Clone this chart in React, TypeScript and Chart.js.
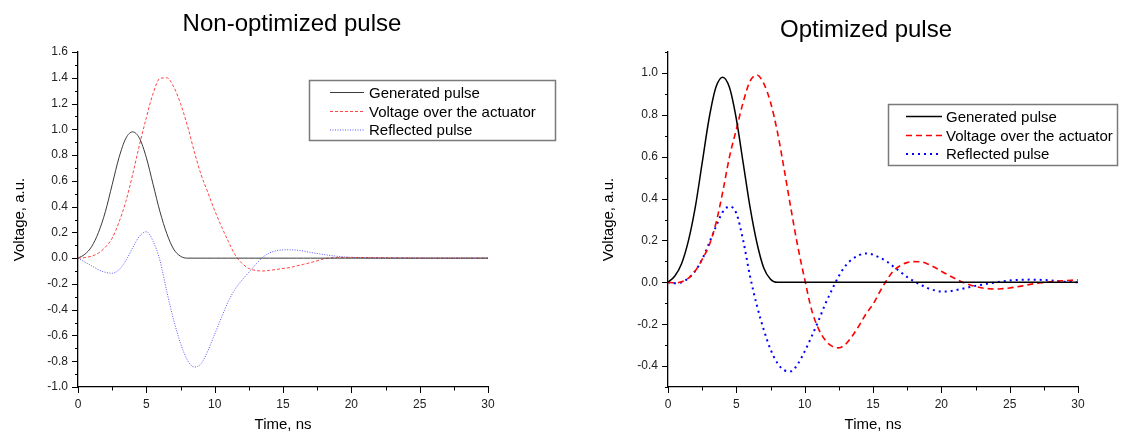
import React, { useEffect, useRef } from "react";
import { Chart, registerables } from "chart.js";

Chart.register(...registerables);

const FONT = 'Arial, "Liberation Sans", sans-serif';

// ---------- data ----------
const timeNs = [
  0, 0.5, 1, 1.5, 2, 2.5, 3, 3.5, 4, 4.5, 5, 5.5, 6, 6.5, 7, 7.5, 8, 8.5, 9, 9.5,
  10, 10.5, 11, 11.5, 12, 12.5, 13, 13.5, 14, 14.5, 15, 15.5, 16, 16.5, 17, 17.5,
  18, 18.5, 19, 19.5, 20, 20.5, 21, 21.5, 22, 22.5, 23, 23.5, 24, 24.5, 25, 25.5,
  26, 26.5, 27, 27.5, 28, 28.5, 29, 29.5, 30,
];

const generatedPulse = [
  0, 0.03, 0.09, 0.2, 0.36, 0.57, 0.78, 0.93, 0.98, 0.93, 0.78, 0.57, 0.36, 0.19,
  0.07, 0.015, 0, 0, 0, 0, 0, 0, 0, 0, 0, 0, 0, 0, 0, 0, 0, 0, 0, 0, 0, 0, 0, 0, 0,
  0, 0, 0, 0, 0, 0, 0, 0, 0, 0, 0, 0, 0, 0, 0, 0, 0, 0, 0, 0, 0, 0,
];

const nonOptActuatorVoltage = [
  0, 0.005, 0.015, 0.04, 0.085, 0.155, 0.28, 0.44, 0.65, 0.88, 1.09, 1.28, 1.395,
  1.4, 1.33, 1.2, 1.03, 0.83, 0.65, 0.51, 0.37, 0.245, 0.13, 0.025, -0.04, -0.08,
  -0.095, -0.1, -0.095, -0.088, -0.08, -0.073, -0.06, -0.048, -0.035, -0.02,
  -0.005, 0.002, 0.005, 0.006, 0.006, 0.005, 0.005, 0.004, 0.004, 0.003, 0.003,
  0.002, 0.002, 0.001, 0.001, 0, 0, 0, 0, 0, 0, 0, 0, 0, 0,
];

const nonOptReflectedPulse = [
  0, -0.03, -0.06, -0.09, -0.11, -0.117, -0.09, -0.02, 0.08, 0.17, 0.205, 0.13,
  -0.02, -0.26, -0.48, -0.66, -0.79, -0.845, -0.82, -0.72, -0.59, -0.46, -0.335,
  -0.24, -0.17, -0.11, -0.05, 0.005, 0.04, 0.057, 0.064, 0.065, 0.062, 0.055,
  0.045, 0.036, 0.028, 0.02, 0.014, 0.009, 0.006, 0.004, 0.002, 0.001, 0, 0, 0, 0,
  0, 0, 0, 0, 0, 0, 0, 0, 0, 0, 0, 0, 0,
];

const optActuatorVoltage = [
  0, -0.003, 0.003, 0.02, 0.055, 0.11, 0.175, 0.28, 0.43, 0.6, 0.73, 0.86, 0.96,
  0.99, 0.95, 0.86, 0.72, 0.54, 0.35, 0.17, 0.015, -0.13, -0.22, -0.276, -0.305,
  -0.313, -0.295, -0.255, -0.205, -0.15, -0.105, -0.045, 0.01, 0.055, 0.08, 0.094,
  0.099, 0.098, 0.088, 0.072, 0.053, 0.035, 0.018, 0.002, -0.01, -0.02, -0.027,
  -0.031, -0.032, -0.03, -0.027, -0.022, -0.016, -0.01, -0.005, -0.001, 0.003,
  0.006, 0.008, 0.01, 0.011,
];

const optReflectedPulse = [
  0, -0.005, 0, 0.02, 0.055, 0.11, 0.185, 0.265, 0.335, 0.362, 0.33, 0.2, 0.03,
  -0.11, -0.225, -0.32, -0.385, -0.42, -0.425, -0.39, -0.33, -0.26, -0.185,
  -0.105, -0.035, 0.03, 0.08, 0.112, 0.13, 0.138, 0.132, 0.118, 0.1, 0.075, 0.05,
  0.025, 0.005, -0.012, -0.028, -0.038, -0.044, -0.043, -0.038, -0.031, -0.024,
  -0.017, -0.011, -0.005, 0, 0.005, 0.009, 0.011, 0.012, 0.013, 0.012, 0.011,
  0.009, 0.006, 0.003, 0.001, 0,
];

const seriesNames = ["Generated pulse", "Voltage over the actuator", "Reflected pulse"];

const xMajorTicks = [0, 5, 10, 15, 20, 25, 30];
const xMinorTicks = [2.5, 7.5, 12.5, 17.5, 22.5, 27.5];

const leftYLabelled = [-1.0, -0.8, -0.6, -0.4, -0.2, 0, 0.2, 0.4, 0.6, 0.8, 1.0, 1.2, 1.4, 1.6];
const leftYMinor = [-0.9, -0.7, -0.5, -0.3, -0.1, 0.1, 0.3, 0.5, 0.7, 0.9, 1.1, 1.3, 1.5];
const rightYLabelled = [-0.4, -0.2, 0, 0.2, 0.4, 0.6, 0.8, 1.0];
const rightYMinor = [-0.5, -0.3, -0.1, 0.1, 0.3, 0.5, 0.7, 0.9, 1.1];

type SeriesStyle = { color: string; width: number; dash: number[] };

type Panel = {
  title: string;
  titleX: number;
  titleY: number;
  yTitleX: number;
  xTitleY: number;
  yMin: number;
  yMax: number;
  yLabelled: number[];
  yMinor: number[];
  yAxisWidth: number;
  padRight: number;
  series: number[][];
  styles: SeriesStyle[];
  legend: { x: number; y: number; w: number; h: number; lx1: number; lx2: number; tx: number; rows: number[] };
};

function buildChart(canvas: HTMLCanvasElement, p: Panel) {
  const decor = {
    id: "decor",
    afterDraw(chart: any) {
      const ctx: CanvasRenderingContext2D = chart.ctx;
      const { left, right, top, bottom } = chart.chartArea;
      const xs = chart.scales.x;
      const ys = chart.scales.y;
      ctx.save();
      ctx.strokeStyle = "#000";
      ctx.lineWidth = 1;
      ctx.setLineDash([]);
      const xt = (vals: number[], len: number) => {
        for (const v of vals) {
          const x = Math.round(xs.getPixelForValue(v)) + 0.5;
          ctx.beginPath();
          ctx.moveTo(x, bottom);
          ctx.lineTo(x, bottom + len);
          ctx.stroke();
        }
      };
      const yt = (vals: number[], len: number) => {
        for (const v of vals) {
          const y = Math.round(ys.getPixelForValue(v)) + 0.5;
          ctx.beginPath();
          ctx.moveTo(left, y);
          ctx.lineTo(left - len, y);
          ctx.stroke();
        }
      };
      xt(xMajorTicks, 6);
      xt(xMinorTicks, 3.5);
      yt(p.yLabelled, 6);
      yt(p.yMinor, 3);

      ctx.fillStyle = "#000";
      ctx.textAlign = "center";
      ctx.textBaseline = "alphabetic";
      ctx.font = `24px ${FONT}`;
      ctx.fillText(p.title, p.titleX, p.titleY);
      ctx.textBaseline = "middle";
      ctx.font = `15px ${FONT}`;
      ctx.fillText("Time, ns", (left + right) / 2, p.xTitleY);
      ctx.save();
      ctx.translate(p.yTitleX, (top + bottom) / 2);
      ctx.rotate(-Math.PI / 2);
      ctx.fillText("Voltage, a.u.", 0, 0);
      ctx.restore();

      // legend
      const L = p.legend;
      ctx.fillStyle = "#fff";
      ctx.fillRect(L.x, L.y, L.w, L.h);
      ctx.strokeStyle = "#7a7a7a";
      ctx.lineWidth = 1.5;
      ctx.strokeRect(L.x, L.y, L.w, L.h);
      ctx.font = `15px ${FONT}`;
      ctx.textAlign = "left";
      ctx.textBaseline = "middle";
      seriesNames.forEach((name, i) => {
        const st = p.styles[i];
        const y = L.rows[i];
        ctx.strokeStyle = st.color;
        ctx.lineWidth = st.width;
        ctx.setLineDash(st.dash);
        ctx.beginPath();
        ctx.moveTo(L.lx1, y);
        ctx.lineTo(L.lx2, y);
        ctx.stroke();
        ctx.setLineDash([]);
        ctx.fillStyle = "#000";
        ctx.fillText(name, L.tx, y + 1);
      });
      ctx.restore();
    },
  };

  const whiteBg = {
    id: "whiteBg",
    beforeDraw(chart: any) {
      const ctx = chart.ctx;
      ctx.save();
      ctx.fillStyle = "#fff";
      ctx.fillRect(0, 0, chart.width, chart.height);
      ctx.restore();
    },
  };

  return new Chart(canvas, {
    type: "line",
    data: {
      datasets: p.series.map((vals, i) => ({
        label: seriesNames[i],
        data: timeNs.map((t, k) => ({ x: t, y: vals[k] })),
        borderColor: p.styles[i].color,
        borderWidth: p.styles[i].width,
        borderDash: p.styles[i].dash,
        pointRadius: 0,
        fill: false,
        cubicInterpolationMode: "monotone" as const,
      })),
    },
    options: {
      responsive: false,
      animation: false,
      devicePixelRatio: 1,
      layout: { padding: { left: 0, right: p.padRight, top: 52, bottom: 0 } },
      plugins: {
        legend: { display: false },
        title: { display: false },
        tooltip: { enabled: false },
      },
      scales: {
        x: {
          type: "linear",
          min: 0,
          max: 30,
          afterBuildTicks: (s: any) => {
            s.ticks = xMajorTicks.map((v) => ({ value: v }));
          },
          afterFit: (s: any) => {
            s.height = 48;
          },
          grid: { display: false, drawTicks: false },
          border: { display: true, color: "#000", width: 1.3 },
          ticks: {
            padding: 10,
            color: "#222",
            font: { size: 12, family: FONT },
            maxRotation: 0,
            autoSkip: false,
            callback: (v: any) => String(v),
          },
        },
        y: {
          type: "linear",
          min: p.yMin,
          max: p.yMax,
          afterBuildTicks: (s: any) => {
            s.ticks = p.yLabelled.map((v) => ({ value: v }));
          },
          afterFit: (s: any) => {
            s.width = p.yAxisWidth;
          },
          grid: { display: false, drawTicks: false },
          border: { display: true, color: "#000", width: 1.3 },
          ticks: {
            padding: 10,
            color: "#222",
            font: { size: 12, family: FONT },
            autoSkip: false,
            callback: (v: any) => Number(v).toFixed(1),
          },
        },
      },
    },
    plugins: [whiteBg, decor],
  } as any);
}

const leftPanel: Panel = {
  title: "Non-optimized pulse",
  titleX: 292,
  titleY: 31,
  yTitleX: 20,
  xTitleY: 425,
  yMin: -1.0,
  yMax: 1.6,
  yLabelled: leftYLabelled,
  yMinor: leftYMinor,
  yAxisWidth: 78,
  padRight: 72,
  series: [generatedPulse, nonOptActuatorVoltage, nonOptReflectedPulse],
  styles: [
    { color: "#3a3a3a", width: 1, dash: [] },
    { color: "#ff4545", width: 1, dash: [3, 2] },
    { color: "#5555ff", width: 1, dash: [1, 1.5] },
  ],
  legend: { x: 309.5, y: 80.5, w: 246, h: 60, lx1: 330, lx2: 364, tx: 369, rows: [92.5, 111.5, 130] },
};

const rightPanel: Panel = {
  title: "Optimized pulse",
  titleX: 306,
  titleY: 37,
  yTitleX: 49,
  xTitleY: 425,
  yMin: -0.5,
  yMax: 1.1,
  yLabelled: rightYLabelled,
  yMinor: rightYMinor,
  yAxisWidth: 108,
  padRight: 45,
  series: [generatedPulse, optActuatorVoltage, optReflectedPulse],
  styles: [
    { color: "#000000", width: 1.5, dash: [] },
    { color: "#ff0000", width: 1.6, dash: [6, 4] },
    { color: "#0000ff", width: 2, dash: [2, 4] },
  ],
  legend: { x: 328.5, y: 104.5, w: 229, h: 61, lx1: 346, lx2: 382, tx: 386, rows: [116.5, 135.5, 154] },
};

function ChartCanvas({ panel, width, left }: { panel: Panel; width: number; left: number }) {
  const ref = useRef<HTMLCanvasElement | null>(null);
  useEffect(() => {
    if (!ref.current) return;
    const chart = buildChart(ref.current, panel);
    return () => chart.destroy();
  }, [panel]);
  return (
    <canvas
      ref={ref}
      width={width}
      height={435}
      style={{ position: "absolute", left, top: 0, width, height: 435, display: "block" }}
    />
  );
}

export default function App() {
  return (
    <div style={{ position: "absolute", left: 0, top: 0, width: 1123, height: 435, background: "#fff" }}>
      <ChartCanvas panel={leftPanel} width={560} left={0} />
      <ChartCanvas panel={rightPanel} width={563} left={560} />
    </div>
  );
}
